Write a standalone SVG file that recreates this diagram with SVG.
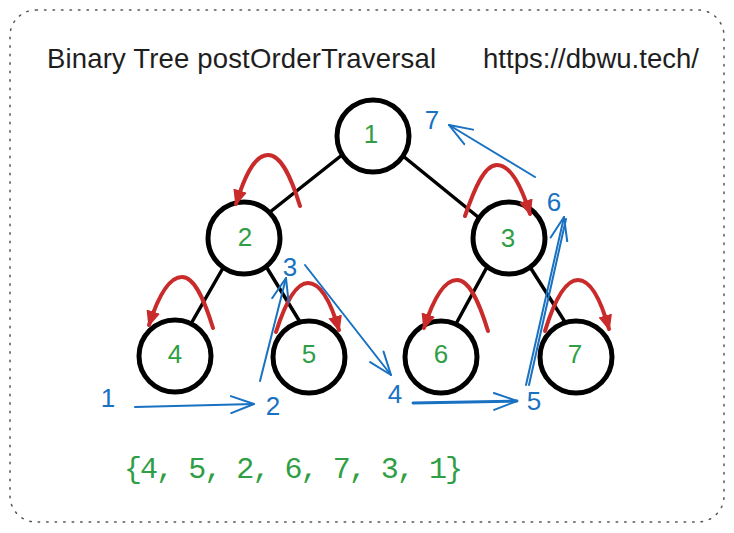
<svg xmlns="http://www.w3.org/2000/svg" width="734" height="533" viewBox="0 0 734 533">
  <defs>
    <style>
      .frame { fill: #ffffff; stroke: #555555; stroke-width: 1.5; stroke-dasharray: 1.5 7; stroke-linecap: round; }
      .title { font-family: "Liberation Sans", Arial, sans-serif; font-size: 27.5px; fill: #1e1e1e; }
      .node circle { fill: #ffffff; stroke: #000000; stroke-width: 5; }
      .node text { font-family: "Liberation Sans", Arial, sans-serif; font-size: 26px; fill: #2f9e44; text-anchor: middle; }
      .edge { stroke: #000000; stroke-width: 3.5; stroke-linecap: round; fill: none; }
      .loop { stroke: #c92a2a; stroke-width: 4; fill: none; stroke-linecap: round; marker-end: url(#redHead); }
      .step { stroke: #1971c2; stroke-width: 2; fill: none; stroke-linecap: round; }
      .stepHead { marker-end: url(#blueHead); }
      .num { font-family: "Liberation Sans", Arial, sans-serif; font-size: 26px; fill: #1971c2; text-anchor: middle; }
      .result { font-family: "Liberation Mono", "Courier New", monospace; font-size: 30px; fill: #2f9e44; }
    </style>
    <marker id="redHead" markerUnits="userSpaceOnUse" viewBox="0 0 16 14" markerWidth="16" markerHeight="14" refX="14" refY="7" orient="auto">
      <path d="M0,0 L16,7 L0,14 Z" fill="#c92a2a"/>
    </marker>
    <marker id="blueHead" markerUnits="userSpaceOnUse" viewBox="0 0 26 20" markerWidth="26" markerHeight="20" refX="24" refY="10" orient="auto">
      <path d="M1,1.5 L24,10 L1,18.5" fill="none" stroke="#1971c2" stroke-width="2" stroke-linecap="round" stroke-linejoin="round"/>
    </marker>
  </defs>

  <rect class="frame" x="10" y="10" width="714" height="512" rx="26" ry="26"/>

  <text class="title" x="47" y="68" textLength="389" lengthAdjust="spacing">Binary Tree postOrderTraversal</text>
  <text class="title" x="483" y="68" textLength="216" lengthAdjust="spacing">https://dbwu.tech/</text>

  <g id="connectors">
    <line class="edge" x1="342" y1="155" x2="270" y2="212"/>
    <line class="edge" x1="403" y1="156" x2="478" y2="217"/>
    <line class="edge" x1="223" y1="268" x2="192" y2="322"/>
    <line class="edge" x1="267" y1="268" x2="300" y2="322"/>
    <line class="edge" x1="487" y1="267" x2="457" y2="322"/>
    <line class="edge" x1="530" y1="267" x2="565" y2="322"/>
  </g>

  <g id="node-1" class="node"><circle cx="373" cy="136" r="36"/><text x="371" y="143">1</text></g>
  <g id="node-2" class="node"><circle cx="244" cy="238" r="36"/><text x="245" y="246">2</text></g>
  <g id="node-3" class="node"><circle cx="509" cy="238" r="36"/><text x="508" y="247">3</text></g>
  <g id="node-4" class="node"><circle cx="175" cy="356" r="36"/><text x="175" y="363">4</text></g>
  <g id="node-5" class="node"><circle cx="309" cy="357" r="36"/><text x="309" y="363">5</text></g>
  <g id="node-6" class="node"><circle cx="441" cy="357" r="36"/><text x="441" y="363">6</text></g>
  <g id="node-7" class="node"><circle cx="576" cy="357" r="36"/><text x="575" y="363">7</text></g>

  <g id="visit-loops">
    <path class="loop" d="M300,206 C292,180 282,155 268,155 C254,155 244,178 236,204"/>
    <path class="loop" d="M465,216 C474,190 484,165 497,165 C511,165 522,188 530,214"/>
    <path class="loop" d="M213,328 C205,302 195,277 182,277 C168,277 157,300 149,325"/>
    <path class="loop" d="M276,332 C284,307 295,283 308,283 C322,283 332,306 339,330"/>
    <path class="loop" d="M488,331 C480,305 470,280 457,280 C443,280 432,303 424,328"/>
    <path class="loop" d="M545,331 C553,305 564,280 578,280 C592,280 602,304 609,329"/>
  </g>

  <g id="traversal">
    <path class="step stepHead" d="M135,407 L254,404"/>
    <path class="step stepHead" d="M260,381 L286,278"/>
    <path class="step stepHead" d="M305,265 L391,375"/>
    <path class="step stepHead" d="M413,403 L517,401" style="stroke-width:3"/>
    <path class="step" d="M529,385 L566,219"/>
    <path class="step stepHead" d="M526,385 L564,217"/>
    <path class="step stepHead" d="M535,177 L449,125"/>
    <text class="num" x="108" y="407">1</text>
    <text class="num" x="273" y="415">2</text>
    <text class="num" x="290" y="276">3</text>
    <text class="num" x="395" y="403">4</text>
    <text class="num" x="534" y="410">5</text>
    <text class="num" x="554" y="211">6</text>
    <text class="num" x="432" y="129">7</text>
  </g>

  <text class="result" x="124" y="478" textLength="339" lengthAdjust="spacing">{4, 5, 2, 6, 7, 3, 1}</text>
</svg>
